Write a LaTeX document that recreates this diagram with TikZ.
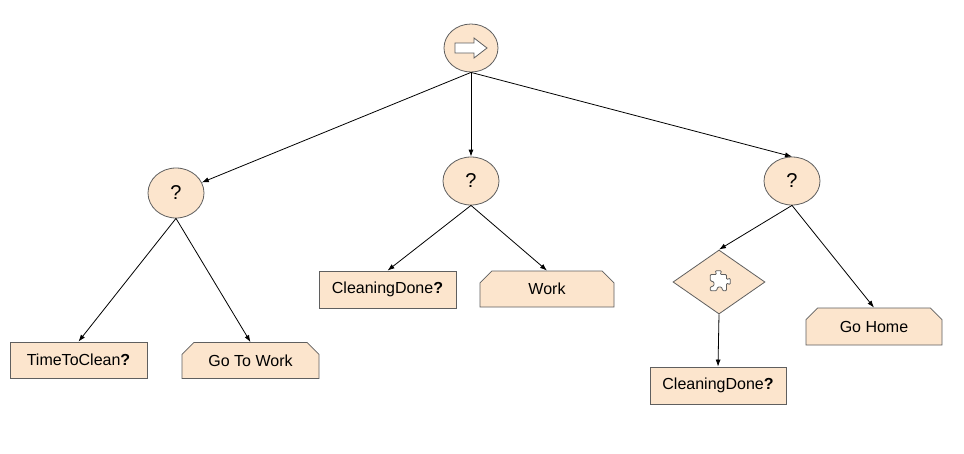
\documentclass[tikz,border=0pt]{standalone}
\usepackage{fontspec}
\setmainfont{Liberation Sans}
\usetikzlibrary{shapes.geometric,shapes.misc,arrows.meta}
\definecolor{nodefill}{HTML}{FCE5CD}
\definecolor{nodeline}{HTML}{5F5F5F}
\begin{document}
\begin{tikzpicture}[x=1pt,y=-1pt,
  base/.style={draw=nodeline,fill=nodefill,line width=0.8pt,inner sep=0pt,font=\fontsize{16}{19}\selectfont},
  ctrl/.style={base,ellipse,minimum width=56pt,minimum height=50pt,font=\fontsize{20}{24}\selectfont},
  cond/.style={base,rectangle,minimum width=137pt,minimum height=36pt},
  act/.style={base,chamfered rectangle,chamfered rectangle corners={north west,north east},chamfered rectangle xsep=6pt,chamfered rectangle ysep=6pt,minimum width=137pt,minimum height=36pt},
  deco/.style={base,diamond,minimum width=92pt,minimum height=64pt,aspect=1.44},
  edge/.style={line width=0.8pt,-{Latex[length=7pt,width=5pt]}},
  icon/.style={draw=nodeline,fill=white,line width=0.8pt}
]
\useasboundingbox (0,0) rectangle (964,453);
\fill[white] (0,0) rectangle (964,453);

\node[ctrl,minimum width=54pt,minimum height=48pt] (root) at (471,48) {};
\node[ctrl] (q1) at (176,193) {?};
\node[ctrl,minimum height=48pt] (q2) at (471,181) {?};
\node[ctrl,minimum height=48pt] (q3) at (792,181) {?};

\node[cond] (ttc) at (78.5,360) {TimeToClean\textbf{?}};
\node[act] (gtw) at (250.5,360.5) {Go To Work};
\node[cond,minimum height=37pt] (cd1) at (387.5,289.5) {CleaningDone\textbf{?}};
\node[act,minimum width=134pt] (work) at (547,289) {Work};
\node[deco] (inv) at (719,282) {};
\node[cond,minimum width=136pt,minimum height=37pt] (cd2) at (718,385.5) {CleaningDone\textbf{?}};
\node[act,minimum width=136pt,minimum height=37pt] (home) at (874,326.5) {Go Home};

% root arrow icon
\begin{scope}[shift={(root.center)}]
\draw[icon] (-16,-5) -- (3,-5) -- (3,-10) -- (16,0) -- (3,10) -- (3,5) -- (-16,5) -- cycle;
\end{scope}
% puzzle icon
\begin{scope}[shift={(inv.center)},scale=1.25]
\draw[icon,rounded corners=1pt] (-7,-6) -- (-2,-6) -- (-3,-9) -- (2,-9) -- (1,-6) -- (6,-6) -- (6,-2) -- (9,-3) -- (9,2) -- (6,1) -- (6,7) -- (3,7) -- (2,4) -- (-1,4) -- (-2,7) -- (-7,7) -- (-7,4) -- (-4,3) -- (-4,0) -- (-7,-1) -- cycle;
\end{scope}

\draw[edge] (root.south) -- (q1);
\draw[edge] (root.south) -- (q2.north);
\draw[edge] (root.south) -- (q3.north);
\draw[edge] (q1.south) -- (ttc.north);
\draw[edge] (q1.south) -- (gtw.north);
\draw[edge] (q2.south) -- (cd1.north);
\draw[edge] (q2.south) -- (work.north);
\draw[edge] (q3.south) -- (inv.north);
\draw[edge] (q3.south) -- (home.north);
\draw[edge] (inv.south) -- (cd2.north);
\end{tikzpicture}
\end{document}
